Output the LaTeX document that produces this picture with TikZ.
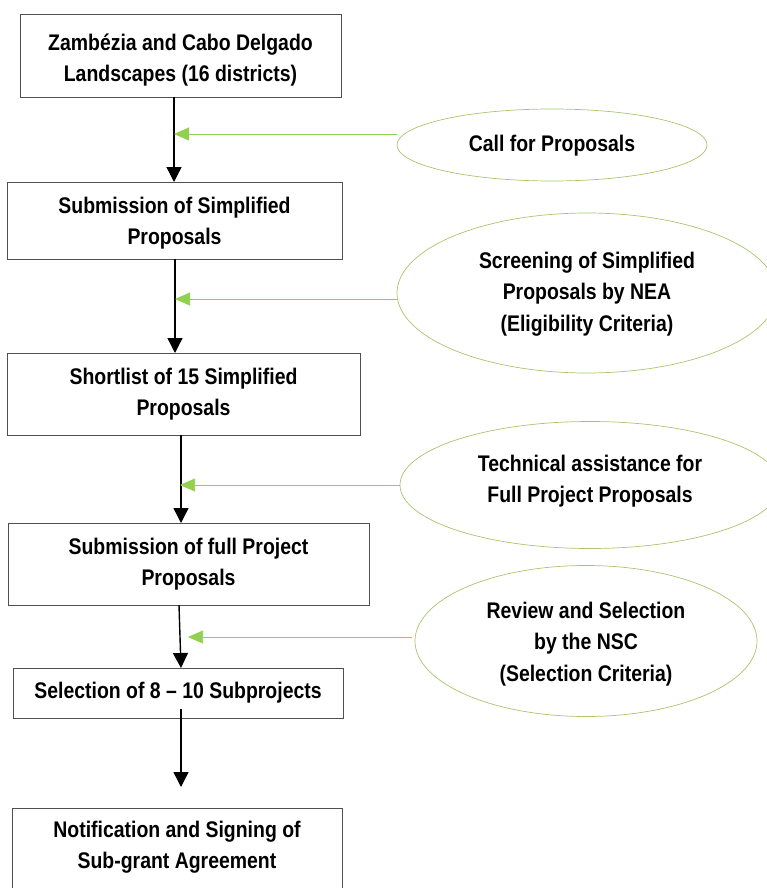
\documentclass[tikz,border=0pt]{standalone}
\usepackage{fontspec}
\setmainfont{Liberation Sans}[FakeStretch=0.86]
\usetikzlibrary{arrows.meta,calc}
\definecolor{boxline}{HTML}{505050}
\definecolor{lime}{HTML}{92D050}
\definecolor{ellline}{HTML}{A9C46C}
\begin{document}
\begin{tikzpicture}[x=1pt,y=-1pt,
  boxtext/.style={font=\fontsize{22.6}{31.5}\selectfont\bfseries, align=center},
  flowbox/.style={draw=boxline, line width=0.9pt},
  oval/.style={draw=ellline, line width=0.7pt},
  blackarrow/.style={draw=black, line width=1.4pt, -{Triangle[length=15pt,width=15pt]}},
  greenarrow/.style={draw=lime, line width=0.9pt, -{Triangle[length=15pt,width=13pt]}}]
\useasboundingbox (0,0) rectangle (767,888);
% boxes
\draw[flowbox] (20,14) rectangle (341,97);
\node[boxtext] (b1) at (180.5,60) {Zambézia and Cabo Delgado\\Landscapes (16 districts)};
\coordinate (b1s) at (174,97);
\draw[flowbox] (7,182) rectangle (342,259);
\node[boxtext] (b2) at (174.5,223) {Submission of Simplified\\Proposals};
\coordinate (b2n) at (174,182);
\coordinate (b2s) at (175,259);
\draw[flowbox] (7,353) rectangle (360,435);
\node[boxtext] (b3) at (183.5,394) {Shortlist of 15 Simplified\\Proposals};
\coordinate (b3n) at (175,353);
\coordinate (b3s) at (181,435);
\draw[flowbox] (8,523) rectangle (369,605);
\node[boxtext] (b4) at (188.5,564) {Submission of full Project\\Proposals};
\coordinate (b4n) at (181,523);
\coordinate (b4s) at (179,605);
\draw[flowbox] (13,668) rectangle (343,718);
\node[boxtext] (b5) at (178,693) {Selection of 8 -- 10 Subprojects};
\coordinate (b5n) at (181,668);
\coordinate (b5s) at (181,709);
\draw[flowbox] (12,808) rectangle (342,888.5);
\node[boxtext] (b6) at (177,847) {Notification and Signing of\\Sub-grant Agreement};
\coordinate (b6n) at (181,787);
% black arrows
\draw[blackarrow] (b1s) -- (b2n);
\draw[blackarrow] (b2s) -- (b3n);
\draw[blackarrow] (b3s) -- (b4n);
\draw[blackarrow] (b4s) -- (b5n);
\draw[blackarrow] (b5s) -- (b6n);
% ellipses
\draw[oval] (552,145) ellipse [x radius=155, y radius=36];
\node[boxtext] (e1) at (552,146) {Call for Proposals};
\draw[oval] (587,293) ellipse [x radius=190, y radius=80];
\node[boxtext] (e2) at (587,294) {Screening of Simplified\\Proposals by NEA\\(Eligibility Criteria)};
\draw[oval] (590,485) ellipse [x radius=190, y radius=63.5];
\node[boxtext] (e3) at (590,481) {Technical assistance for\\Full Project Proposals};
\draw[oval] (586,641) ellipse [x radius=171, y radius=75.5];
\node[boxtext] (e4) at (586,644) {Review and Selection\\by the NSC\\(Selection Criteria)};
% green connectors
\coordinate (g1s) at (397,134); \coordinate (g1e) at (174,134);
\coordinate (g2s) at (397,299); \coordinate (g2e) at (175,299);
\coordinate (g3s) at (400,485); \coordinate (g3e) at (180,485);
\coordinate (g4s) at (412,637); \coordinate (g4e) at (188,637);
\draw[greenarrow] (g1s) -- (g1e);
\draw[greenarrow] (g2s) -- (g2e);
\draw[greenarrow, line width=0.6pt] (g3s) -- (g3e);
\draw[greenarrow, line width=0.6pt] (g4s) -- (g4e);
\end{tikzpicture}
\end{document}
